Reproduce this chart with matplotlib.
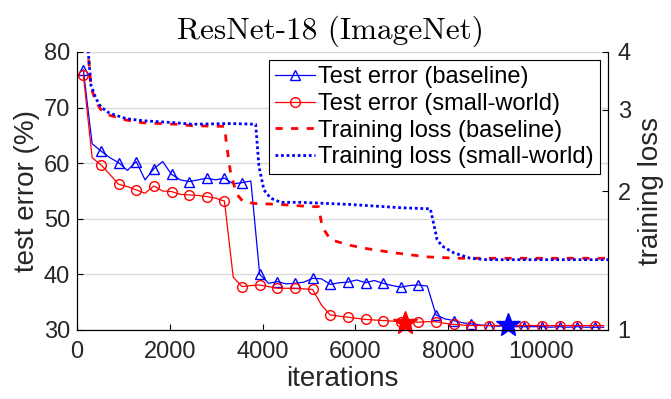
import numpy as np
import matplotlib
matplotlib.use("Agg")
import matplotlib.pyplot as plt
from matplotlib.ticker import FixedLocator, NullLocator, FixedFormatter

plt.rcParams['font.family'] = ['Liberation Sans', 'DejaVu Sans']

# test error is logged every ~190 iterations, markers on every other point
iters = np.arange(60) * 190 + 136

err_base = [76.8, 63.5, 62.2, 61.0, 60.1, 58.7, 60.3, 57.0, 59.0, 60.3,
            58.0, 57.0, 56.7, 57.0, 57.3, 57.0, 57.3, 56.3, 56.5, 56.8,
            40.0, 38.4, 38.7, 38.3, 38.4, 38.6, 39.3, 39.2, 38.2, 38.5,
            38.6, 39.0, 38.5, 38.9, 38.4, 38.0, 37.7, 38.0, 38.1, 37.9,
            32.7, 32.0, 31.7, 31.3, 31.1, 30.9, 30.8, 30.7, 30.7, 30.6,
            30.6, 30.6, 30.6, 30.5, 30.6, 30.5, 30.6, 30.5, 30.5, 30.5]
err_sw = [75.9, 61.0, 59.7, 58.0, 56.2, 55.8, 55.2, 54.6, 55.9, 55.0,
          54.9, 54.4, 54.3, 54.2, 54.0, 53.7, 53.2, 39.5, 37.8, 38.0,
          38.1, 37.8, 37.5, 37.5, 37.5, 37.4, 37.3, 34.5, 32.7, 32.5,
          32.3, 32.1, 31.9, 31.8, 31.7, 31.6, 31.5, 31.5, 31.4, 31.5,
          31.5, 31.2, 31.0, 30.9, 30.8, 30.8, 30.8, 30.8, 30.8, 30.8,
          30.8, 30.8, 30.8, 30.8, 30.8, 30.8, 30.8, 30.8, 30.8, 30.8]

# training loss
loss_base_it = [200, 300, 409, 516, 695, 1054, 1413, 2129, 2488, 3167, 3183,
                3226, 3312, 3441, 3570, 3813, 4387, 5032, 5204, 5284, 5462,
                5821, 6252, 6824, 7542, 8215, 11440]
loss_base = [4.5, 3.35, 3.12, 3.0, 2.92, 2.85, 2.81, 2.79, 2.77, 2.76, 2.74,
             2.5, 2.18, 1.97, 1.90, 1.88, 1.87, 1.85, 1.85, 1.67, 1.57,
             1.53, 1.50, 1.47, 1.44, 1.43, 1.43]
loss_sw_it = [200, 301, 409, 516, 695, 1054, 1413, 2129, 2488, 3312, 3849,
              3920, 4028, 4172, 4387, 4817, 5892, 6968, 7613, 7684, 7757,
              7864, 8114, 8473, 8832, 11440]
loss_sw = [4.5, 3.39, 3.17, 3.04, 2.95, 2.87, 2.84, 2.81, 2.79, 2.80, 2.79,
           2.26, 2.01, 1.93, 1.89, 1.89, 1.87, 1.84, 1.83, 1.70, 1.57,
           1.52, 1.47, 1.43, 1.42, 1.42]

# stars marking where each run reaches the final accuracy
star_sw = (7060, 31.3)
star_base = (9290, 30.9)

txt = '0.15'
fig = plt.figure(figsize=(6.71, 3.99), dpi=100)
ax = fig.add_axes([77/671, 69/399, 531/671, 278/399])
ax2 = ax.twinx()

h1, = ax.plot(iters, err_base, '-', color='b', lw=0.9, marker='^', ms=7,
              mfc='none', mec='b', mew=1.0, markevery=2,
              label='Test error (baseline)')
h2, = ax.plot(iters, err_sw, '-', color='r', lw=0.9, marker='o', ms=7,
              mfc='none', mec='r', mew=1.0, markevery=2,
              label='Test error (small-world)')
ax.plot(*star_sw, marker='*', ms=18, color='r', ls='none', clip_on=False, zorder=5)
ax.plot(*star_base, marker='*', ms=18, color='b', ls='none', clip_on=False, zorder=5)

h3, = ax2.plot(loss_base_it, loss_base, color='r', lw=2, ls=(0, (2.6, 3)),
               label='Training loss (baseline)')
h4, = ax2.plot(loss_sw_it, loss_sw, color='b', lw=2, ls=(0, (1, 1)),
               label='Training loss (small-world)')

ax.set_xlim(0, 11440)
ax.set_ylim(30, 80)
ax.set_xticks([0, 2000, 4000, 6000, 8000, 10000])
ax.set_yticks([30, 40, 50, 60, 70, 80])
ax.yaxis.grid(True, color='0.85', lw=1)
ax.set_axisbelow(True)

ax2.set_yscale('log')
ax2.set_ylim(1, 4)
ax2.yaxis.set_major_locator(FixedLocator([1, 2, 3, 4]))
ax2.yaxis.set_major_formatter(FixedFormatter(['1', '2', '3', '4']))
ax2.yaxis.set_minor_locator(NullLocator())

for a in (ax, ax2):
    a.spines['top'].set_visible(False)
    a.tick_params(direction='in', length=4, labelsize=17, colors='k',
                  labelcolor=txt, width=0.8)
ax.tick_params(axis='y', pad=5)
ax.tick_params(axis='x', pad=8)
ax2.tick_params(axis='y', pad=7)

ax.set_xlabel('iterations', fontsize=20, color=txt, labelpad=2)
ax.set_ylabel('test error (%)', fontsize=20, color=txt, labelpad=3)
ax2.set_ylabel('training loss', fontsize=20, color=txt, labelpad=5)

fig.text(330/671, 1 - 31/399, 'ResNet-18 (ImageNet)', fontfamily='cmr10',
         fontsize=22.5, ha='center', va='center')

leg = ax2.legend(handles=[h1, h2, h3, h4], loc='upper right', fontsize=17,
                 fancybox=False, framealpha=1, edgecolor='k',
                 handlelength=1.7, handletextpad=0.15, borderpad=0.25,
                 labelspacing=0.2, borderaxespad=0.35)
leg.get_frame().set_linewidth(0.8)

fig.savefig('out.png', dpi=100)
